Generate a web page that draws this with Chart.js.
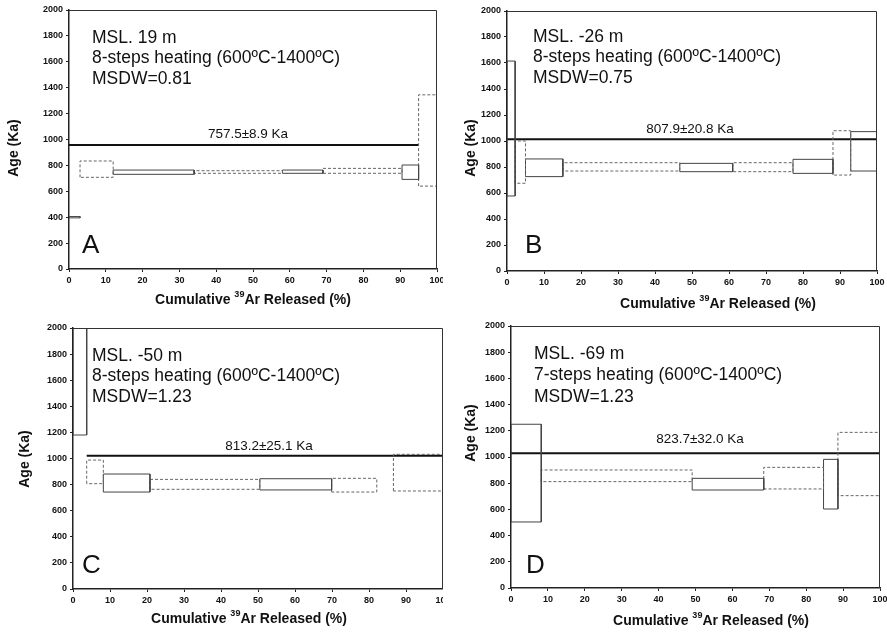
<!DOCTYPE html>
<html>
<head>
<meta charset="utf-8">
<script src="https://cdn.jsdelivr.net/npm/chart.js@4.4.1/dist/chart.umd.min.js"></script>
<style>
  body { margin: 0; background: #fff; }
  .panel { position: absolute; }
</style>
</head>
<body>
<div class="panel" style="left:0;top:0;width:443px;height:316px"><canvas id="chartA" width="443" height="316"></canvas></div>
<div class="panel" style="left:443px;top:0;width:444px;height:316px"><canvas id="chartB" width="444" height="316"></canvas></div>
<div class="panel" style="left:0;top:316px;width:443px;height:317px"><canvas id="chartC" width="443" height="317"></canvas></div>
<div class="panel" style="left:443px;top:316px;width:444px;height:317px"><canvas id="chartD" width="444" height="317"></canvas></div>
<script>
// step boundaries (cumulative 39Ar %) and age range of each step (Ka)
const stepsA = [0, 3, 12, 34, 58, 69, 90.5, 95, 100];
const hiA = [405, 834, 764, 759, 764, 777, 803, 1345];
const loA = [395, 708, 731, 739, 739, 739, 692, 640];

const stepsB = [0, 2.2, 5.0, 15.1, 46.7, 61, 77.3, 88.1, 92.9, 100];
const hiB = [1615, 1000, 862, 833, 828, 833, 859, 1079, 1072];
const loB = [577, 675, 726, 769, 764, 764, 751, 738, 769];

const stepsC = [0, 3.7, 8.2, 20.8, 50.5, 69.9, 82.1, 86.6, 100];
const hiC = [2050, 988, 881, 840, 845, 848, null, 1032];
const loC = [1180, 807, 743, 764, 759, 743, null, 751];

const stepsD = [0, 8.2, 49.1, 68.5, 84.7, 88.6, 100];
const hiD = [1250, 901, 837, 921, 982, 1188];
const loD = [504, 812, 748, 756, 603, 705];

const plateauAge = [958, 1013, 1022, 1028];
const plateauFrom = [0, 0, 3.7, 0];
const plateauTo = [95, 100, 100, 100];
const plateauLabels = ['757.5±8.9 Ka', '807.9±20.8 Ka', '813.2±25.1 Ka', '823.7±32.0 Ka'];

const depthLabels = ['MSL. 19 m', 'MSL. -26 m', 'MSL. -50 m', 'MSL. -69 m'];
const heatingLabels = ['8-steps heating (600ºC-1400ºC)', '8-steps heating (600ºC-1400ºC)',
                       '8-steps heating (600ºC-1400ºC)', '7-steps heating (600ºC-1400ºC)'];
const msdwLabels = ['MSDW=0.81', 'MSDW=0.75', 'MSDW=1.23', 'MSDW=1.23'];
const panelLetters = ['A', 'B', 'C', 'D'];

// layout of each panel in its own canvas (pixels)
const layouts = [
    { w: 443, h: 316, area: [69, 10, 437, 269], yTitle: [14, 148], xTitle: [253, 300],
      textX: 92, textBase: [43, 63, 84], letter: [82, 253], label: [248, 138] },
    { w: 444, h: 316, area: [64, 11, 434, 271], yTitle: [28, 148], xTitle: [275, 304],
      textX: 90, textBase: [42, 62, 83], letter: [82, 253], label: [247, 133] },
    { w: 443, h: 317, area: [73, 12, 443, 273], yTitle: [25, 143], xTitle: [249, 303],
      textX: 92, textBase: [45, 65, 86], letter: [82, 257], label: [269, 134] },
    { w: 444, h: 317, area: [68, 10, 437, 272], yTitle: [28, 117], xTitle: [268, 305],
      textX: 91, textBase: [43, 64, 86], letter: [83, 257], label: [257, 127] },
];

const FONT = "'Liberation Sans', Arial, sans-serif";

function boxDatasets(steps, hi, lo) {
    const sets = [];
    for (let i = 0; i < hi.length; i++) {
        if (hi[i] == null) continue;
        const x0 = steps[i], x1 = steps[i + 1];
        sets.push({
            data: [{x: x0, y: lo[i]}, {x: x0, y: hi[i]}, {x: x1, y: hi[i]}, {x: x1, y: lo[i]}, {x: x0, y: lo[i]}],
            borderColor: i % 2 ? '#666' : '#444',
            borderWidth: 1,
            borderDash: i % 2 ? [3, 2] : [],
            pointRadius: 0,
            tension: 0,
            fill: false,
        });
    }
    return sets;
}

const panelText = {
    id: 'panelText',
    afterDraw(chart, args, opts) {
        const {ctx, chartArea: a} = chart;
        const i = opts.index;
        const p = layouts[i];
        ctx.save();
        // top and right frame
        ctx.strokeStyle = '#333';
        ctx.lineWidth = 1;
        ctx.beginPath();
        ctx.moveTo(a.left, a.top + 0.5);
        ctx.lineTo(a.right - 0.5, a.top + 0.5);
        ctx.lineTo(a.right - 0.5, a.bottom);
        ctx.stroke();

        ctx.fillStyle = '#111';
        ctx.textBaseline = 'alphabetic';
        ctx.textAlign = 'left';
        ctx.font = '17.5px ' + FONT;
        ctx.fillText(depthLabels[i], p.textX, p.textBase[0]);
        ctx.fillText(heatingLabels[i], p.textX, p.textBase[1]);
        ctx.fillText(msdwLabels[i], p.textX, p.textBase[2]);

        ctx.font = '26px ' + FONT;
        ctx.fillText(panelLetters[i], p.letter[0], p.letter[1]);

        ctx.textAlign = 'center';
        ctx.font = '13.5px ' + FONT;
        ctx.fillText(plateauLabels[i], p.label[0], p.label[1]);

        // x axis title with superscript
        const parts = [['Cumulative ', 14, 0], ['39', 9, -5], ['Ar Released (%)', 14, 0]];
        let total = 0;
        parts.forEach(([t, s]) => { ctx.font = 'bold ' + s + 'px ' + FONT; total += ctx.measureText(t).width; });
        let x = p.xTitle[0] - total / 2;
        ctx.textAlign = 'left';
        ctx.textBaseline = 'middle';
        parts.forEach(([t, s, dy]) => {
            ctx.font = 'bold ' + s + 'px ' + FONT;
            ctx.fillText(t, x, p.xTitle[1] + dy);
            x += ctx.measureText(t).width;
        });

        // y axis title
        ctx.translate(p.yTitle[0], p.yTitle[1]);
        ctx.rotate(-Math.PI / 2);
        ctx.textAlign = 'center';
        ctx.font = 'bold 14px ' + FONT;
        ctx.fillText('Age (Ka)', 0, 0);
        ctx.restore();
    }
};

function makePanel(id, index, steps, hi, lo) {
    const p = layouts[index];
    const datasets = boxDatasets(steps, hi, lo);
    datasets.push({
        data: [{x: plateauFrom[index], y: plateauAge[index]}, {x: plateauTo[index], y: plateauAge[index]}],
        borderColor: '#111',
        borderWidth: 2,
        pointRadius: 0,
        fill: false,
    });
    new Chart(document.getElementById(id), {
        type: 'line',
        data: { datasets },
        options: {
            responsive: false,
            animation: false,
            layout: { padding: { top: p.area[1], right: p.w - p.area[2], left: 0, bottom: 0 } },
            plugins: {
                legend: { display: false },
                tooltip: { enabled: false },
                panelText: { index },
            },
            scales: {
                x: {
                    type: 'linear', min: 0, max: 100,
                    ticks: { stepSize: 10, color: '#111', padding: 3, maxRotation: 0,
                             callback: (v) => String(v),
                             font: { family: FONT, size: 9, weight: 'bold' } },
                    grid: { drawOnChartArea: false, tickLength: 3, color: '#222' },
                    border: { color: '#222', width: 1.5 },
                    afterFit(s) { s.height = p.h - p.area[3]; s.paddingLeft = 0; s.paddingRight = 0; },
                },
                y: {
                    min: 0, max: 2000,
                    ticks: { stepSize: 200, color: '#111', padding: 3,
                             callback: (v) => String(v),
                             font: { family: FONT, size: 9, weight: 'bold' } },
                    grid: { drawOnChartArea: false, tickLength: 3, color: '#222' },
                    border: { color: '#222', width: 1.5 },
                    afterFit(s) { s.width = p.area[0]; s.paddingTop = 0; s.paddingBottom = 0; },
                },
            },
        },
        plugins: [panelText],
    });
}

makePanel('chartA', 0, stepsA, hiA, loA);
makePanel('chartB', 1, stepsB, hiB, loB);
makePanel('chartC', 2, stepsC, hiC, loC);
makePanel('chartD', 3, stepsD, hiD, loD);
</script>
</body>
</html>
